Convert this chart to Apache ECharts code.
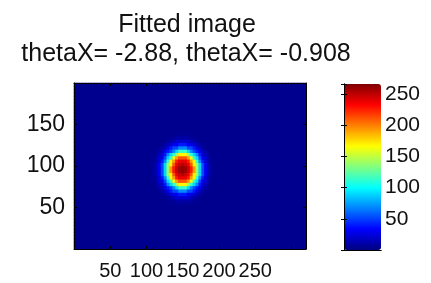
<!DOCTYPE html>
<html>
<head>
<meta charset="utf-8">
<script src="https://cdn.jsdelivr.net/npm/echarts@6/dist/echarts.min.js"></script>
<style>
html,body{margin:0;padding:0;background:#fff;}
#chart{width:431px;height:283px;}
</style>
</head>
<body>
<div id="chart"></div>
<script>
// fitted image on 4-unit cells
var titleLines = ['Fitted image', 'thetaX= -2.88, thetaX= -0.908'];
var xRange = [0, 320];
var yRange = [0, 200];
var cellSize = 4;
var background = 4;
var peakPos = [150, 96];
// value against distance from the peak, radius 0..44 step 2
var radiusStep = 2;
var radialProfile = [262, 261, 258, 253, 246, 237, 226, 211, 192, 168, 141, 114, 90, 69, 52, 39, 29, 21, 15, 10, 7, 5, 4];
var xTicks = [50, 100, 150, 200, 250];
var yTicks = [50, 100, 150];
var cbarRange = [0, 266];
var cbarTicks = [50, 100, 150, 200, 250];
var jet = ['#000080', '#0000ff', '#0080ff', '#00ffff', '#80ff80', '#ffff00', '#ff8000', '#ff0000', '#800000'];

var dom = echarts.init(document.getElementById('chart'));

var xCats = [], yCats = [], cells = [];
var nx = (xRange[1] - xRange[0]) / cellSize, ny = (yRange[1] - yRange[0]) / cellSize;
for (var i = 0; i < nx; i++) xCats.push(xRange[0] + cellSize / 2 + i * cellSize);
for (var j = 0; j < ny; j++) yCats.push(yRange[0] + cellSize / 2 + j * cellSize);
for (var i = 0; i < nx; i++) {
	for (var j = 0; j < ny; j++) {
		var dx = xCats[i] - peakPos[0], dy = yCats[j] - peakPos[1];
		var k = Math.round(Math.sqrt(dx * dx + dy * dy) / radiusStep);
		var v = k < radialProfile.length ? radialProfile[k] : background;
		cells.push([i, j, v]);
	}
}

var fam = '"Liberation Sans", Arial, sans-serif';
function pick(list) {
	return function (val) { return list.indexOf(val) >= 0 ? String(val) : ''; };
}
var frame = {show: true, lineStyle: {color: '#000', width: 1}};
var inTick = {show: true, inside: true, length: 3, lineStyle: {color: '#000'}};

option = {
	animation: false,
	backgroundColor: '#fff',
	graphic: [
		{type: 'text', x: 187, y: 25, style: {text: titleLines[0], fill: '#111', font: '25px ' + fam, textAlign: 'center', textVerticalAlign: 'middle'}},
		{type: 'text', x: 186, y: 54, style: {text: titleLines[1], fill: '#111', font: '25px ' + fam, textAlign: 'center', textVerticalAlign: 'middle'}}
	],
	grid: [
		{left: 74, top: 83, width: 232, height: 166, show: true, borderWidth: 0, backgroundColor: '#00008f'},
		{left: 344, top: 84, width: 37, height: 166}
	],
	xAxis: [
		{type: 'category', gridIndex: 0, data: xCats, show: false},
		{type: 'value', gridIndex: 0, min: xRange[0], max: xRange[1], interval: 50, position: 'bottom', z: 5,
			axisLine: frame, splitLine: {show: false}, axisTick: inTick,
			axisLabel: {margin: 12, formatter: pick(xTicks), fontFamily: fam, fontSize: 20, color: '#111'}},
		{type: 'value', gridIndex: 0, min: xRange[0], max: xRange[1], interval: 50, position: 'top', z: 5,
			axisLine: frame, splitLine: {show: false}, axisLabel: {show: false}, axisTick: inTick},
		{type: 'value', gridIndex: 1, min: 0, max: 1, position: 'bottom', z: 6,
			axisLine: frame, splitLine: {show: false}, axisLabel: {show: false}, axisTick: {show: false}},
		{type: 'value', gridIndex: 1, min: 0, max: 1, position: 'top', z: 6,
			axisLine: frame, splitLine: {show: false}, axisLabel: {show: false}, axisTick: {show: false}}
	],
	yAxis: [
		{type: 'category', gridIndex: 0, data: yCats, show: false},
		{type: 'value', gridIndex: 0, min: yRange[0], max: yRange[1], interval: 50, position: 'left', z: 5,
			axisLine: frame, splitLine: {show: false}, axisTick: inTick,
			axisLabel: {margin: 9, formatter: pick(yTicks), fontFamily: fam, fontSize: 23, color: '#111'}},
		{type: 'value', gridIndex: 0, min: yRange[0], max: yRange[1], interval: 50, position: 'right', z: 5,
			axisLine: frame, splitLine: {show: false}, axisLabel: {show: false}, axisTick: inTick},
		{type: 'value', gridIndex: 1, min: cbarRange[0], max: cbarRange[1], interval: 50, position: 'right', z: 6,
			axisLine: frame, splitLine: {show: false}, axisTick: inTick,
			axisLabel: {margin: 4, formatter: pick(cbarTicks), fontFamily: fam, fontSize: 21, color: '#111'}},
		{type: 'value', gridIndex: 1, min: cbarRange[0], max: cbarRange[1], interval: 50, position: 'left', z: 6,
			axisLine: frame, splitLine: {show: false}, axisLabel: {show: false}, axisTick: inTick}
	],
	visualMap: {
		type: 'continuous',
		min: cbarRange[0],
		max: cbarRange[1],
		seriesIndex: 0,
		calculable: false,
		orient: 'vertical',
		left: 344,
		top: 84,
		padding: 0,
		itemWidth: 37,
		itemHeight: 166,
		z: 1,
		inRange: {color: jet}
	},
	series: [{
		type: 'heatmap',
		xAxisIndex: 0,
		yAxisIndex: 0,
		data: cells,
		emphasis: {disabled: true},
		progressive: 0
	}]
};

dom.setOption(option);
</script>
</body>
</html>
